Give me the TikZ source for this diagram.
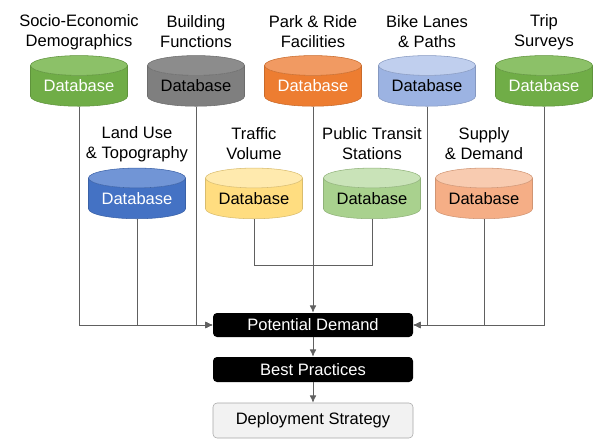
\documentclass[tikz,border=0pt]{standalone}
\usepackage{fontspec}
\setmainfont{Liberation Sans}
\usetikzlibrary{shapes.geometric,arrows.meta}
\definecolor{grnbody}{HTML}{70AD47}
\definecolor{grnend}{HTML}{8CC168}
\definecolor{graybody}{HTML}{7F7F7F}
\definecolor{grayend}{HTML}{8C8C8C}
\definecolor{orabody}{HTML}{ED7D31}
\definecolor{oraend}{HTML}{F19A62}
\definecolor{lbbody}{HTML}{9CB3E2}
\definecolor{lbend}{HTML}{C0CFEE}
\definecolor{dbbody}{HTML}{4472C4}
\definecolor{dbend}{HTML}{7195D6}
\definecolor{yelbody}{HTML}{FFDD80}
\definecolor{yelend}{HTML}{FFEAAE}
\definecolor{lgbody}{HTML}{A9D18E}
\definecolor{lgend}{HTML}{C9E3B8}
\definecolor{salbody}{HTML}{F5AE86}
\definecolor{salend}{HTML}{F8CBB0}
\definecolor{linegray}{HTML}{606060}
\tikzset{
  db/.style={cylinder, shape border rotate=90, aspect=0.28, draw=#1body!85!black,
    minimum width=72.75pt, minimum height=38pt, inner sep=0pt,
    cylinder uses custom fill, cylinder body fill=#1body, cylinder end fill=#1end,
    font=\fontsize{12.4}{14}\selectfont},
  lbl/.style={align=center, font=\fontsize{12.4}{15}\selectfont},
  stage/.style={rounded corners=3pt, minimum width=150pt, inner sep=0pt,
    font=\fontsize{12.4}{14}\selectfont},
  conn/.style={draw=linegray, line width=0.6pt},
  arr/.style={conn, -{Latex[length=5.5pt,width=5pt]}}
}
\begin{document}
\begin{tikzpicture}[x=0.75pt,y=-0.75pt]
  \useasboundingbox (0,0) rectangle (593,439);
  % top row of databases
  \node[db=grn, text=white] (socio) at (79,86) {Database};
  \node[db=gray] (build) at (196,86) {Database};
  \node[db=ora, text=white] (park) at (313,86) {Database};
  \node[db=lb] (bike) at (427,86) {Database};
  \node[db=grn, text=white] (trip) at (544,86) {Database};
  \node[lbl] (sociol) at (79,32) {Socio-Economic\\Demographics};
  \node[lbl] (buildl) at (196,32) {Building\\Functions};
  \node[lbl] (parkl) at (313,32) {Park \& Ride\\Facilities};
  \node[lbl] (bikel) at (427,32) {Bike Lanes\\\& Paths};
  \node[lbl] (tripl) at (544,32) {Trip\\Surveys};
  % second row of databases
  \node[db=db, text=white] (land) at (137,198.5) {Database};
  \node[db=yel] (traffic) at (254,198.5) {Database};
  \node[db=lg] (transit) at (372,198.5) {Database};
  \node[db=sal] (supply) at (484,198.5) {Database};
  \node[lbl] (landl) at (137,144) {Land Use\\\& Topography};
  \node[lbl] (trafficl) at (254,144) {Traffic\\Volume};
  \node[lbl] (transitl) at (372,144) {Public Transit\\Stations};
  \node[lbl] (supplyl) at (484,144) {Supply\\\& Demand};
  % stages
  \node[stage, fill=black, text=white, minimum height=18pt] (demand) at (313,325) {Potential Demand};
  \node[stage, fill=black, text=white, minimum height=18.75pt] (best) at (313,369.5) {Best Practices};
  \node[stage, fill=black!5, draw=black!35, minimum height=26.25pt] (deploy) at (313,420.5) {Deployment Strategy};
  \coordinate (join) at (313,265);
  % connectors
  \path[conn] (traffic.south) |- (join);
  \path[conn] (transit.south) |- (join);
  \path[arr] (park.south) -- (demand.north);
  \path[arr] (socio.south) |- (demand.west);
  \path[arr] (land.south) |- (demand.west);
  \path[arr] (build.south) |- (demand.west);
  \path[arr] (bike.south) |- (demand.east);
  \path[arr] (supply.south) |- (demand.east);
  \path[arr] (trip.south) |- (demand.east);
  \path[arr] (demand) -- (best);
  \path[arr] (best) -- (deploy);
\end{tikzpicture}
\end{document}
